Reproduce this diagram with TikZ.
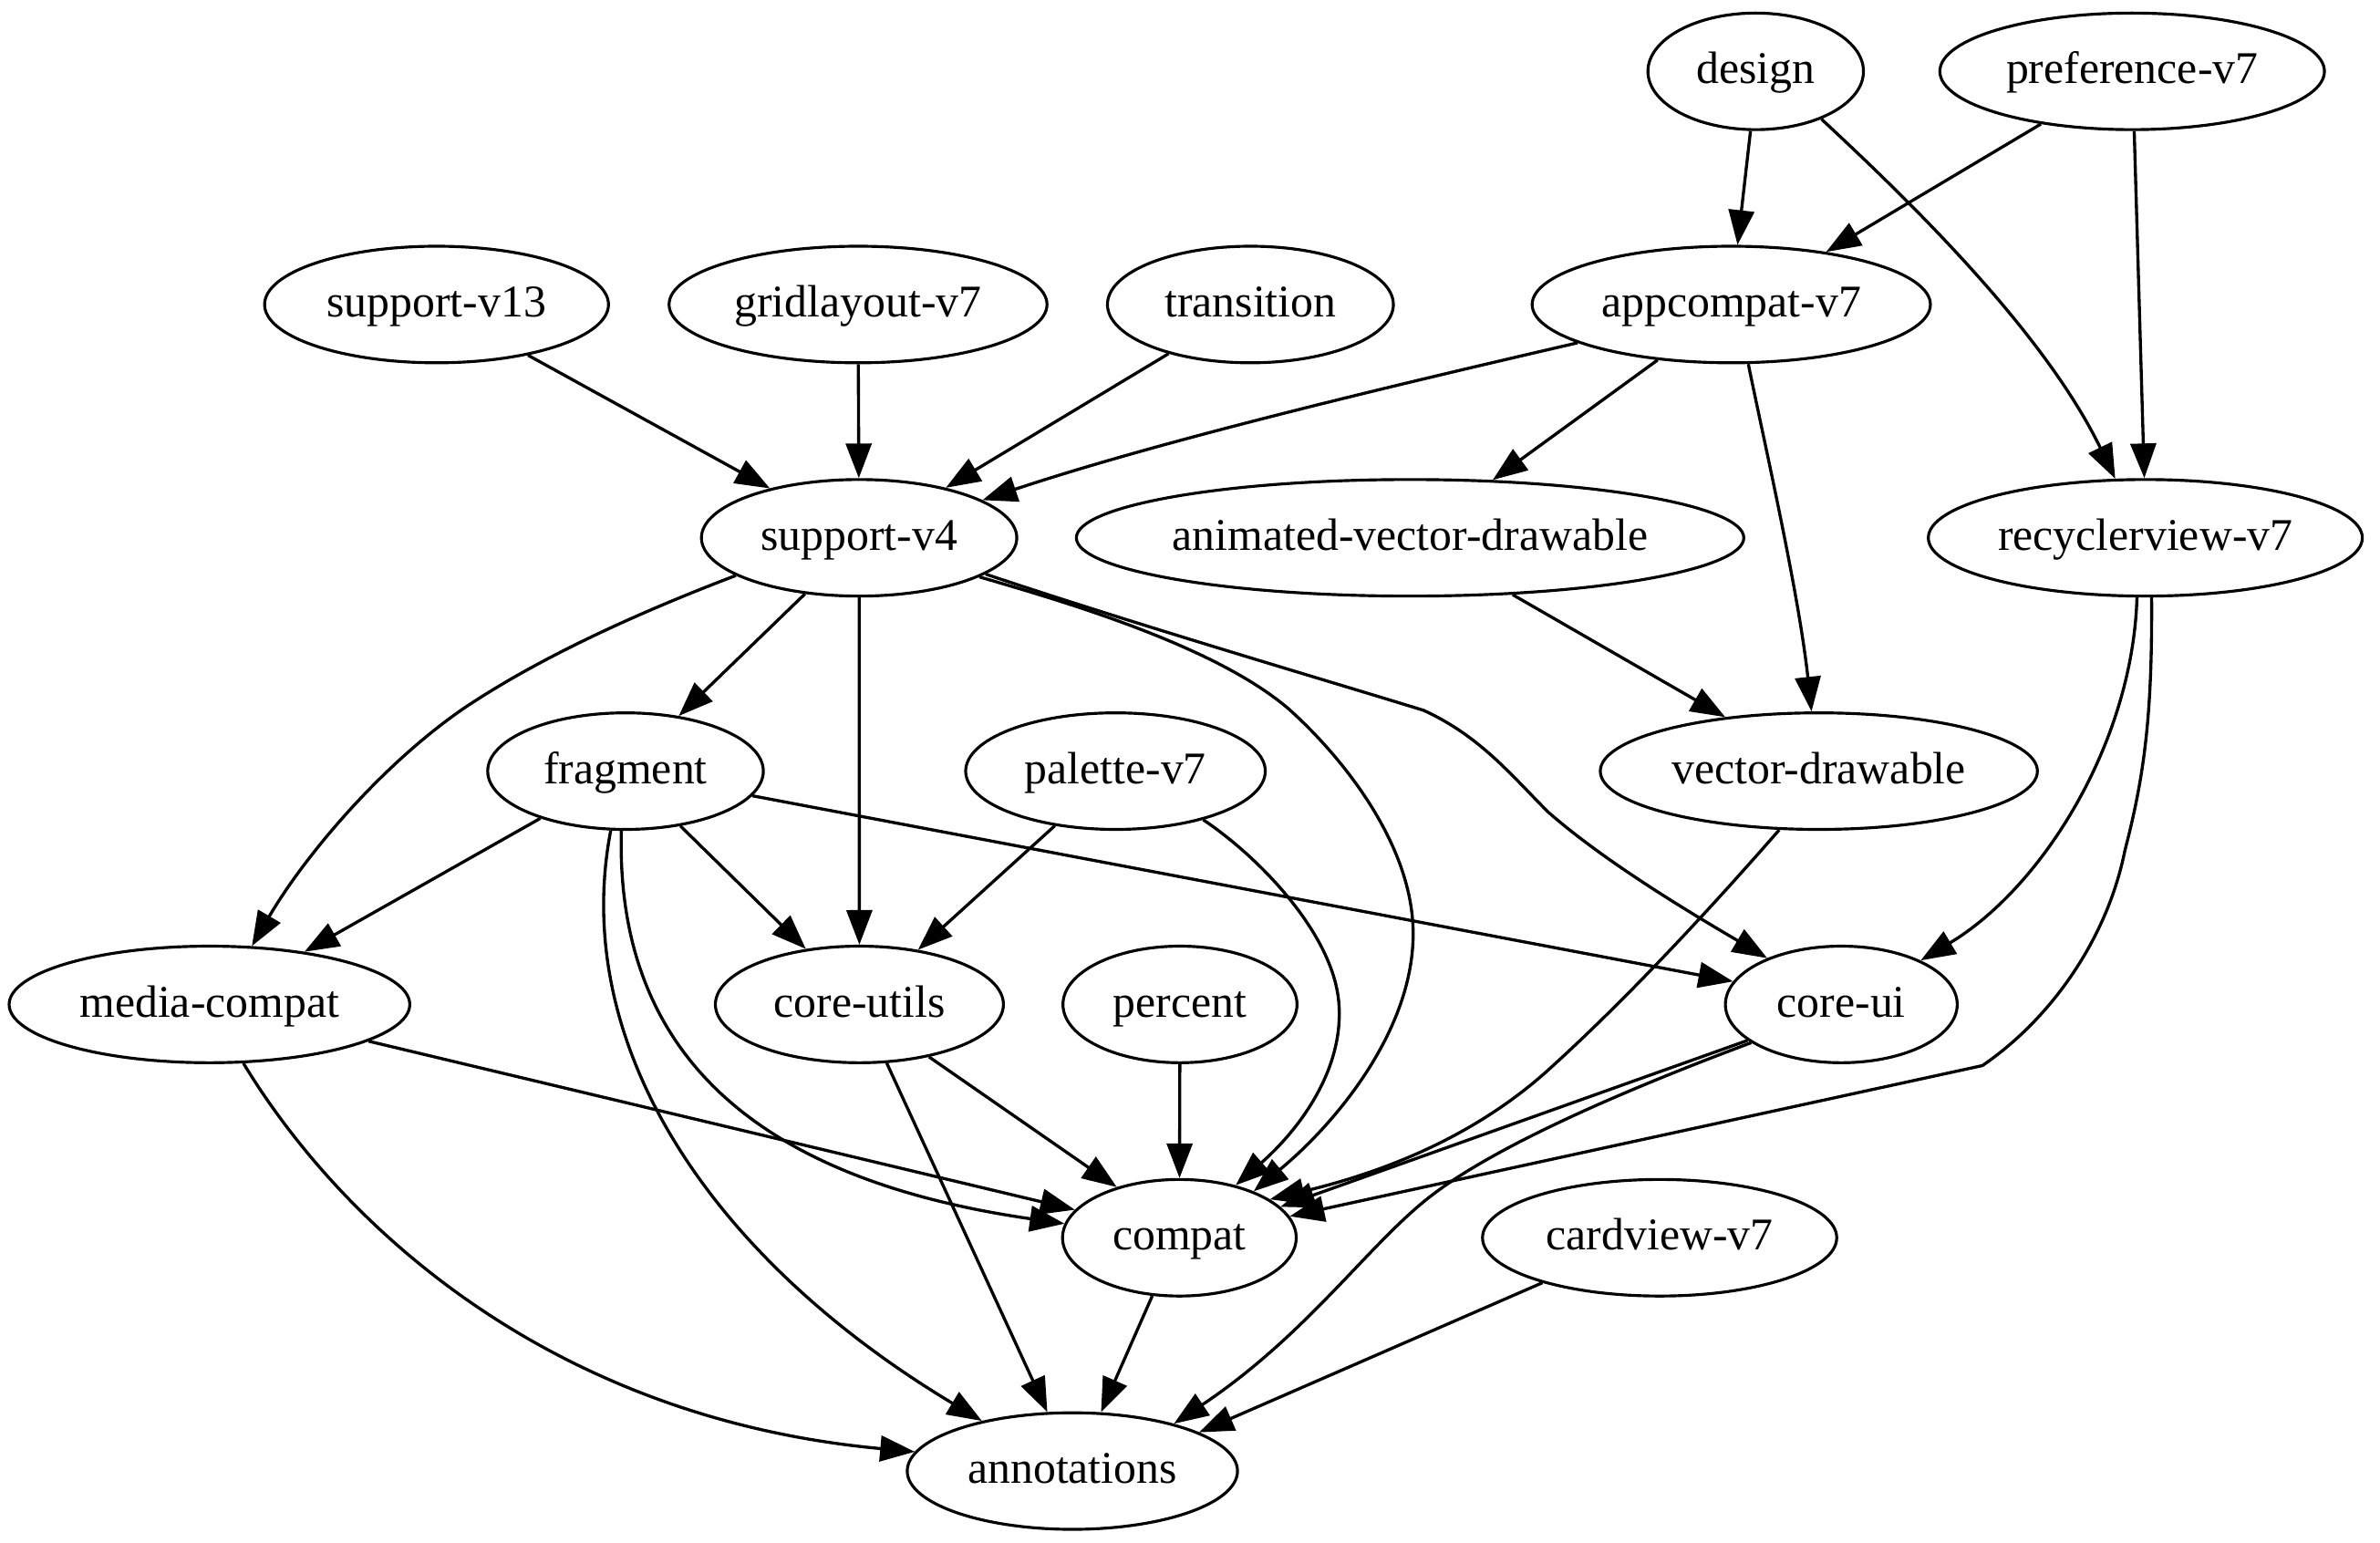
\documentclass[tikz,border=0pt]{standalone}
\usepackage{fontspec}
\setmainfont{Liberation Serif}
\usetikzlibrary{shapes.geometric,arrows.meta}
\begin{document}
\begin{tikzpicture}[x=0.016645cm,y=-0.016645cm,
  nd/.style={ellipse,draw,line width=0.9pt,inner sep=0pt,minimum height=1.2783cm,
    text height=9.8pt,text depth=2pt,
    font=\fontsize{14.16pt}{17pt}\selectfont},
  ed/.style={line width=0.95pt,-{Triangle[length=10.8pt,width=8pt]}}]
\useasboundingbox (0,0) rectangle (1568,1016);
% nodes
\node[nd,minimum width=2.364cm] (design) at (1156.7,47) {\makebox[0pt]{design}};
\node[nd,minimum width=4.218cm] (pref) at (1404.7,47) {\makebox[0pt]{preference-v7}};
\node[nd,minimum width=3.772cm] (sv13) at (287.6,200.6) {\makebox[0pt]{support-v13}};
\node[nd,minimum width=4.145cm] (grid) at (565.3,200.6) {\makebox[0pt]{gridlayout-v7}};
\node[nd,minimum width=3.136cm] (trans) at (823.8,200.6) {\makebox[0pt]{transition}};
\node[nd,minimum width=4.368cm] (app) at (1140.6,200.6) {\makebox[0pt]{appcompat-v7}};
\node[nd,minimum width=3.459cm] (sv4) at (566,354.3) {\makebox[0pt]{support-v4}};
\node[nd,minimum width=7.320cm] (avd) at (929,354.3) {\makebox[0pt]{animated-vector-drawable}};
\node[nd,minimum width=4.760cm] (rv) at (1413.4,354.3) {\makebox[0pt]{recyclerview-v7}};
\node[nd,minimum width=3.023cm] (frag) at (412.1,508) {\makebox[0pt]{fragment}};
\node[nd,minimum width=3.286cm] (pal) at (734.9,508) {\makebox[0pt]{palette-v7}};
\node[nd,minimum width=4.794cm] (vd) at (1198.3,508) {\makebox[0pt]{vector-drawable}};
\node[nd,minimum width=4.394cm] (media) at (138,661.7) {\makebox[0pt]{media-compat}};
\node[nd,minimum width=3.159cm] (cu) at (566.2,661.7) {\makebox[0pt]{core-utils}};
\node[nd,minimum width=2.567cm] (pct) at (777.4,661.7) {\makebox[0pt]{percent}};
\node[nd,minimum width=2.543cm] (cui) at (1213.1,661.7) {\makebox[0pt]{core-ui}};
\node[nd,minimum width=2.563cm] (compat) at (777,815.4) {\makebox[0pt]{compat}};
\node[nd,minimum width=3.885cm] (card) at (1093.4,815.4) {\makebox[0pt]{cardview-v7}};
\node[nd,minimum width=3.622cm] (annot) at (706.5,969.1) {\makebox[0pt]{annotations}};
% edges
\draw[ed] (design.265) -- (app.84);
\draw[ed] (design.-36.5) .. controls (1250,125) and (1345,215) .. (rv.117.4);
\draw[ed] (pref.210.7) -- (app.29.5);
\draw[ed] (pref.-88.4) -- (rv.91.5);
\draw[ed] (sv13.-29.3) -- (sv4.151.3);
\draw[ed] (grid) -- (sv4);
\draw[ed] (trans.211.9) -- (sv4.30.4);
\draw[ed] (app.194) .. controls (900,258) and (760,292) .. (sv4.17.2);
\draw[ed] (app.217.7) -- (avd.35.2);
\draw[ed] (app.-74.8) .. controls (1162,290) and (1185,390) .. (vd.97.7);
\draw[ed] (sv4.197.8) .. controls (430,400) and (360,430) .. (305,467)
   .. controls (250,505) and (200,565) .. (media.54.3);
\draw[ed] (sv4.226) -- (frag.46);
\draw[ed] (sv4) -- (cu);
\draw[ed] (sv4.-18.5) .. controls (700,396) and (800,425) .. (849,467)
   .. controls (888,502) and (932,560) .. (931,617)
   .. controls (930,680) and (880,740) .. (compat.32);
\draw[ed] (sv4.-16.5) .. controls (750,412) and (880,450) .. (938,468)
   .. controls (975,485) and (995,510) .. (1020,535)
   .. controls (1060,570) and (1120,605) .. (cui.148.3);
\draw[ed] (avd.-29.3) -- (vd.150.3);
\draw[ed] (rv.262.6) .. controls (1405,490) and (1345,585) .. (cui.29.4);
\draw[ed] (rv.-84) .. controls (1418,470) and (1413,510) .. (1400,560)
   .. controls (1388,620) and (1350,672) .. (1306,702) -- (compat.11);
\draw[ed] (frag.209.7) -- (media.29.1);
\draw[ed] (frag.-45.8) -- (cu.134.6);
\draw[ed] (frag.-11.8) -- (cui.168.8);
\draw[ed] (frag.266.6) .. controls (405,710) and (520,780) .. (compat.173.4);
\draw[ed] (frag.256.7) .. controls (375,690) and (470,830) .. (annot.151.3);
\draw[ed] (pal.222.9) -- (cu.43.4);
\draw[ed] (pal.-29.1) .. controls (830,565) and (878,615) .. (882,660)
   .. controls (886,705) and (855,745) .. (compat.43);
\draw[ed] (vd.236.2) .. controls (1130,595) and (1075,655) .. (1021,704)
   .. controls (966,754) and (900,775) .. (compat.23);
\draw[ed] (media.-13.7) -- (compat.165.6);
\draw[ed] (media.-60.5) .. controls (230,815) and (370,935) .. (annot.173.7);
\draw[ed] (cu.-37.8) -- (compat.141.8);
\draw[ed] (cu.-65.5) -- (annot.113.8);
\draw[ed] (pct) -- (compat);
\draw[ed] (cui.201) -- (compat.17);
\draw[ed] (cui.203) .. controls (1060,722) and (980,758) .. (940,790)
   .. controls (900,822) and (860,880) .. (annot.25);
\draw[ed] (compat.245) -- (annot.64.3);
\draw[ed] (card.201.9) -- (annot.17);
\end{tikzpicture}
\end{document}
